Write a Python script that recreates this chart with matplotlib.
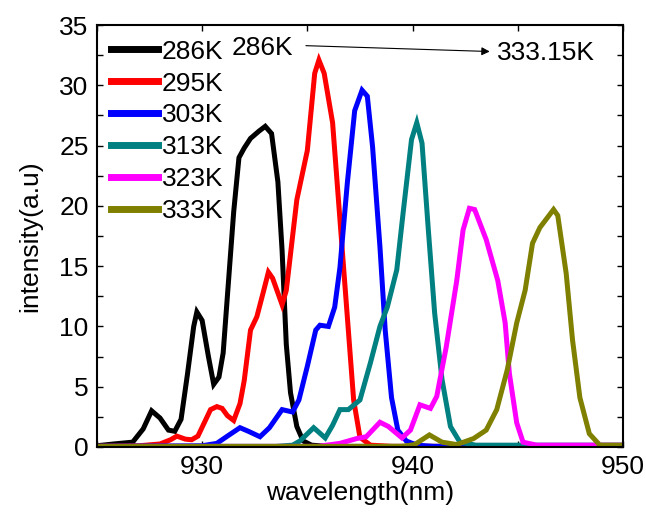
import matplotlib
matplotlib.use("Agg")
import matplotlib.pyplot as plt
import numpy as np

FS = 19.0
plt.rcParams['font.family'] = ['Liberation Sans', 'DejaVu Sans']

labels = ["286K", "295K", "303K", "313K", "323K", "333K"]
colors = ["#000000", "#ff0000", "#0000ff", "#008080", "#ff00ff", "#808000"]

x286 = [925.0, 925.8, 926.7, 927.2, 927.6, 928.0, 928.4, 928.7, 929.0, 929.3, 929.6, 929.75, 930.0, 930.3,
        930.55, 930.8, 931.0, 931.2, 931.5, 931.75, 932.0, 932.3, 932.7, 933.0, 933.3, 933.6, 933.8, 934.0,
        934.2, 934.5, 934.8, 935.2, 936.0, 950.0]
y286 = [0.1, 0.25, 0.4, 1.5, 3.0, 2.4, 1.4, 1.3, 2.3, 6.0, 10.0, 11.2, 10.5, 7.5,
        5.2, 5.8, 7.8, 12.5, 19.5, 24.0, 24.8, 25.6, 26.2, 26.6, 26.0, 22.0, 16.3, 8.5,
        4.5, 1.7, 0.5, 0.15, 0.05, 0.05]

x295 = [925.0, 927.0, 928.0, 928.5, 928.8, 929.2, 929.5, 929.8, 930.1, 930.4, 930.7, 930.95, 931.2, 931.5,
        931.8, 932.0, 932.3, 932.6, 932.9, 933.15, 933.35, 933.8, 934.0, 934.5, 935.0, 935.35, 935.55, 935.8,
        936.2, 936.6, 936.9, 937.2, 937.5, 938.0, 939.0, 950.0]
y295 = [0.05, 0.1, 0.25, 0.6, 0.9, 0.65, 0.6, 0.9, 2.0, 3.1, 3.35, 3.2, 2.6, 2.2,
        3.6, 5.5, 9.7, 10.8, 12.8, 14.5, 14.0, 11.8, 13.0, 20.5, 24.6, 31.0, 32.1, 31.0,
        26.9, 17.7, 10.8, 3.9, 0.8, 0.15, 0.05, 0.05]

x303 = [925.0, 930.0, 930.7, 931.2, 931.8, 932.2, 932.75, 933.2, 933.8, 934.3, 934.6, 935.0, 935.4, 935.6,
        936.0, 936.3, 936.55, 936.9, 937.25, 937.6, 937.85, 938.1, 938.45, 938.7, 939.0, 939.3, 939.7, 940.2,
        941.0, 950.0]
y303 = [0.05, 0.1, 0.3, 0.9, 1.6, 1.3, 0.85, 1.6, 3.1, 2.9, 3.9, 6.7, 9.7, 10.1,
        10.0, 11.6, 14.9, 21.9, 27.9, 29.6, 29.1, 24.9, 16.6, 9.7, 4.1, 1.4, 0.5, 0.15,
        0.05, 0.05]

x313 = [925.0, 933.5, 934.3, 934.65, 935.3, 935.85, 936.2, 936.55, 936.95, 937.5, 938.0, 938.45, 938.8, 939.25,
        939.55, 939.95, 940.2, 940.45, 940.75, 941.05, 941.4, 941.8, 942.25, 943.0, 950.0]
y313 = [0.05, 0.05, 0.15, 0.5, 1.6, 0.75, 1.8, 3.1, 3.1, 3.9, 7.0, 10.0, 11.6, 14.7,
        19.4, 25.5, 26.9, 25.2, 18.0, 11.1, 5.6, 1.7, 0.4, 0.15, 0.15]

x323 = [925.0, 935.5, 936.55, 937.35, 937.8, 938.45, 938.85, 939.5, 939.9, 940.35, 940.85, 941.15, 941.6, 942.1,
        942.4, 942.7, 942.95, 943.5, 944.05, 944.4, 944.6, 944.95, 945.25, 945.9, 950.0]
y323 = [0.05, 0.05, 0.3, 0.7, 0.85, 2.05, 1.7, 0.75, 1.4, 3.5, 3.2, 4.2, 8.3, 13.8,
        18.0, 19.8, 19.7, 17.2, 13.8, 10.3, 6.1, 2.0, 0.4, 0.15, 0.15]

x333 = [925.0, 939.5, 940.1, 940.8, 941.4, 942.1, 942.9, 943.5, 944.0, 944.5, 944.95, 945.35, 945.7, 946.05,
        946.7, 946.9, 947.3, 947.6, 947.95, 948.4, 948.9, 950.0]
y333 = [0.05, 0.05, 0.2, 1.0, 0.4, 0.2, 0.7, 1.4, 3.1, 6.4, 10.3, 13.0, 16.9, 18.2,
        19.7, 19.2, 14.4, 8.9, 4.1, 1.1, 0.15, 0.15]

xs = [x286, x295, x303, x313, x323, x333]
ys = [y286, y295, y303, y313, y323, y333]

fig = plt.figure(figsize=(6.46, 5.12), dpi=100)
ax = fig.add_axes([0.150, 0.127, 0.8144, 0.824])

for x, y, c, lab in zip(xs, ys, colors, labels):
    ax.plot(x, y, color=c, lw=3.6, label=lab, solid_joinstyle='miter')

ax.set_xlim(925, 950)
ax.set_ylim(0, 35)

xt = np.arange(925, 951, 5)
ax.set_xticks(xt)
ax.set_xticklabels([str(int(v)) if v % 10 == 0 else "" for v in xt])
yt = np.arange(0, 35.01, 2.5)
ax.set_yticks(yt)
ax.set_yticklabels([str(int(v)) if v % 5 == 0 else "" for v in yt])
ax.tick_params(direction='in', top=True, right=True, length=4, width=1.0, labelsize=FS, pad=6)
for s in ax.spines.values():
    s.set_linewidth(1.5)

ax.set_xlabel("wavelength(nm)", fontsize=FS, labelpad=1)
ax.set_ylabel("intensity(a.u)", fontsize=FS, labelpad=12)

leg = ax.legend(loc='upper left', bbox_to_anchor=(0.0, 1.0), frameon=False, fontsize=FS,
                handlelength=1.75, handletextpad=0.15, labelspacing=0.3, borderaxespad=0.2,
                borderpad=0.35)
for ln in leg.get_lines():
    ln.set_linewidth(5)

ax.text(931.4, 33.1, "286K", fontsize=FS, va='center', ha='left')
ax.annotate("", xy=(943.8, 32.8), xytext=(934.8, 33.3),
            arrowprops=dict(arrowstyle='-|>', color='black', lw=0.8, mutation_scale=12))
ax.text(944.0, 32.7, "333.15K", fontsize=FS, va='center', ha='left')

fig.savefig("out.png", dpi=100)
